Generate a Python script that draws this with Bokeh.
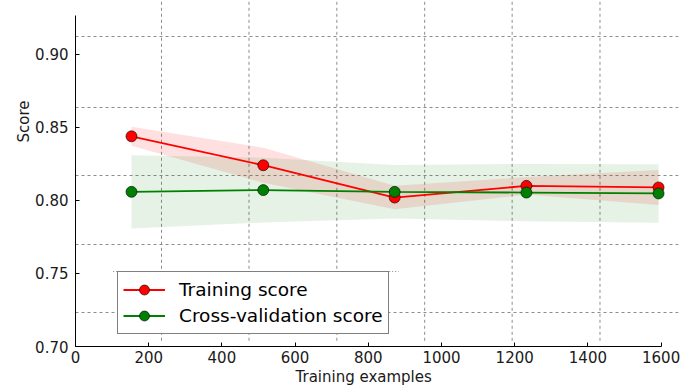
from bokeh.plotting import figure
from bokeh.models import (Range1d, FixedTicker, PrintfTickFormatter, Title,
                          Legend, LegendItem, ColumnDataSource)
from bokeh.embed import file_html
from bokeh.resources import INLINE

# ---- data -------------------------------------------------------------
train_sizes = [153, 513, 872, 1232, 1593]
train_mean = [0.8438, 0.8240, 0.8019, 0.8099, 0.8088]
train_std = [0.0065, 0.0120, 0.0080, 0.0060, 0.0120]
test_mean = [0.8058, 0.8070, 0.8058, 0.8053, 0.8047]
test_std = [0.0250, 0.0222, 0.0183, 0.0196, 0.0200]

x_ticks = [0, 200, 400, 600, 800, 1000, 1200, 1400, 1600]
y_ticks = [0.70, 0.75, 0.80, 0.85, 0.90]

# offset dashed grid (as it appears in the reference)
grid_x = [235, 474, 714, 954, 1193, 1433]
grid_y = [0.7233, 0.7700, 0.8170, 0.8635, 0.9120]

FONT = "DejaVu Sans"
Y_TOP = 0.9367

src = ColumnDataSource(dict(
    x=train_sizes,
    tr=train_mean,
    tr_lo=[m - s for m, s in zip(train_mean, train_std)],
    tr_hi=[m + s for m, s in zip(train_mean, train_std)],
    te=test_mean,
    te_lo=[m - s for m, s in zip(test_mean, test_std)],
    te_hi=[m + s for m, s in zip(test_mean, test_std)],
))

p = figure(width=693, height=389, output_backend="svg", toolbar_location=None,
           x_range=Range1d(0, 1647.5), y_range=Range1d(0.70, Y_TOP),
           min_border_left=75, min_border_right=15, min_border_top=0,
           min_border_bottom=43)
p.outline_line_color = None
p.background_fill_color = "white"

# grid
p.xgrid.visible = False
p.ygrid.ticker = FixedTicker(ticks=grid_y)
p.ygrid.grid_line_color = "#8c8c8c"
p.ygrid.grid_line_dash = "3 3"
p.ygrid.grid_line_width = 1
p.segment(x0=grid_x, x1=grid_x, y0=[0.7039] * len(grid_x), y1=[Y_TOP] * len(grid_x),
          line_color="#8c8c8c", line_dash="3 3", line_width=1)
# faint dotted frame edge behind the legend
p.segment(x0=[103], x1=[883], y0=[0.7513], y1=[0.7513],
          line_color="#8c8c8c", line_dash="1 2", line_width=1)

# axes
for ax in (p.xaxis[0], p.yaxis[0]):
    ax.axis_line_color = "black"
    ax.axis_line_width = 1
    ax.major_tick_in = 4
    ax.major_tick_out = 0
    ax.major_tick_line_color = "black"
    ax.minor_tick_line_color = None
    ax.major_label_text_font = FONT
    ax.major_label_text_font_size = "15px"
    ax.major_label_text_color = "#1a1a1a"
p.xaxis.ticker = FixedTicker(ticks=x_ticks)
p.xaxis.bounds = (0, 1600)
p.xaxis.major_label_standoff = 4
p.yaxis.ticker = FixedTicker(ticks=y_ticks)
p.yaxis.formatter = PrintfTickFormatter(format="%.2f")
p.yaxis.bounds = (0.70, 0.9262)
p.yaxis.major_label_standoff = 7

# bands
p.varea(x="x", y1="tr_lo", y2="tr_hi", source=src, fill_color="red", fill_alpha=0.12)
p.varea(x="x", y1="te_lo", y2="te_hi", source=src, fill_color="green", fill_alpha=0.1)

# lines + markers
l1 = p.line("x", "tr", source=src, line_color="red", line_width=1.8)
s1 = p.scatter("x", "tr", source=src, size=11, fill_color="red",
               line_color="black", line_alpha=0.6, line_width=1)
l2 = p.line("x", "te", source=src, line_color="green", line_width=1.8)
s2 = p.scatter("x", "te", source=src, size=11, fill_color="green",
               line_color="black", line_alpha=0.6, line_width=1)

legend = Legend(items=[LegendItem(label="Training score", renderers=[l1, s1]),
                       LegendItem(label="Cross-validation score", renderers=[l2, s2])],
                location=(42, 12), orientation="vertical")
legend.label_text_font = FONT
legend.label_text_font_size = "18.5px"
legend.label_text_color = "black"
legend.border_line_color = "black"
legend.border_line_width = 1
legend.background_fill_color = "white"
legend.background_fill_alpha = 1
legend.padding = 5
legend.spacing = 1
legend.margin = 0
legend.glyph_width = 42
legend.glyph_height = 25
legend.label_height = 25
legend.label_standoff = 14
p.add_layout(legend, "center")

# axis titles
p.add_layout(Title(text="Training examples", align="left", offset=220, standoff=0,
                   text_font=FONT, text_font_size="15px", text_font_style="normal",
                   text_color="#1a1a1a"), "below")
p.add_layout(Title(text="Score", align="right", offset=100, standoff=0,
                   text_font=FONT, text_font_size="15px", text_font_style="normal",
                   text_color="#1a1a1a"), "left")

open("out.html", "w").write(file_html(p, INLINE))
